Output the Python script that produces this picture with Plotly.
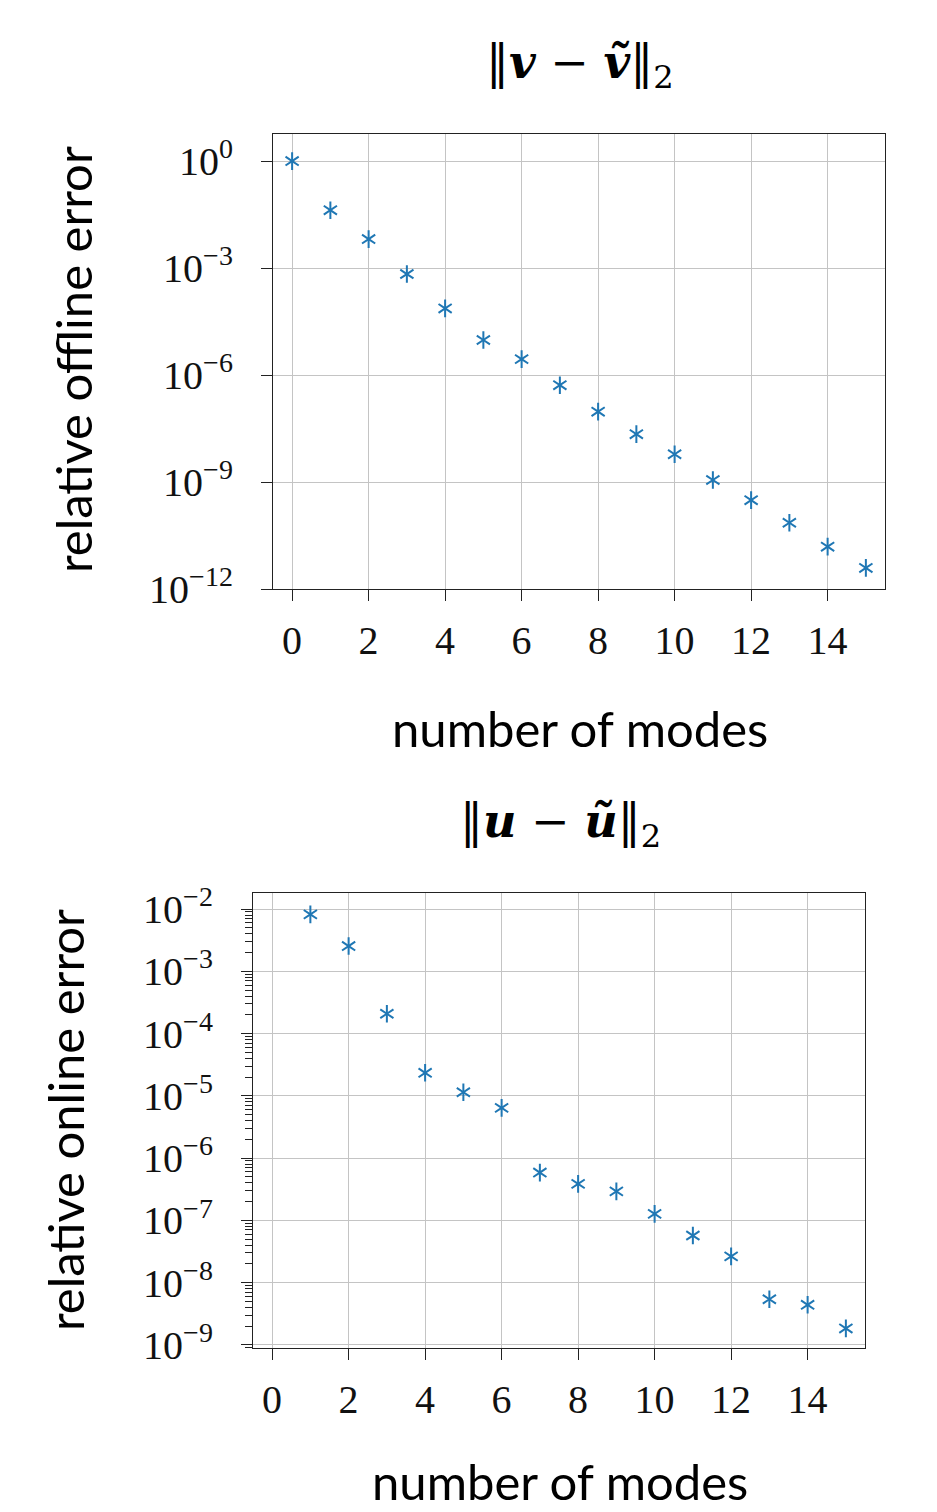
import numpy as np
import plotly.graph_objects as go

# ---- data ----
modes_offline = list(range(0, 16))
offline_error = [1.0, 4.2e-2, 6.5e-3, 6.8e-4, 7.4e-5, 9.6e-6, 2.8e-6, 5.2e-7,
                 9.4e-8, 2.2e-8, 6.0e-9, 1.14e-9, 3.1e-10, 7.2e-11, 1.54e-11, 3.9e-12]

modes_online = list(range(1, 16))
online_error = [8.2e-3, 2.54e-3, 2.08e-4, 2.34e-5, 1.14e-5, 6.4e-6, 5.85e-7, 3.85e-7,
                2.92e-7, 1.27e-7, 5.7e-8, 2.64e-8, 5.4e-9, 4.4e-9, 1.84e-9]

x_ticks = list(range(0, 15, 2))
top_y_exps = [0, -3, -6, -9, -12]
bot_y_exps = [-2, -3, -4, -5, -6, -7, -8, -9]

title_top = "‖<b><i>v</i></b> − <b><i>ṽ</i></b>‖<sub>2</sub>"
title_bot = "‖<b><i>u</i></b> − <b><i>ũ</i></b>‖<sub>2</sub>"
xlabel = "number of modes"
ylabel_top = "relative offline error"
ylabel_bot = "relative online error"

# ---- style ----
W, H = 937, 1512
BLUE = "#1f77b4"
SERIF = "Liberation Serif"
TSERIF = "DejaVu Serif"
SANS = "Lato"
GRID = "#c4c4c4"


def label(e):
    return "10<sup>" + ("−" if e < 0 else "") + str(abs(e)) + "</sup>"


fig = go.Figure()


def add_stars(x, y, xa, ya):
    for sym in ["y-up-open", "y-down-open"]:
        fig.add_trace(go.Scatter(
            x=x, y=y, mode="markers", xaxis=xa, yaxis=ya, showlegend=False,
            marker=dict(symbol=sym, size=11, color=BLUE,
                        line=dict(color=BLUE, width=2)),
        ))


add_stars(modes_offline, offline_error, "x", "y")
add_stars(modes_online, online_error, "x2", "y2")


def px_dom_x(a, b):
    return [a / W, b / W]


def px_dom_y(top, bottom):
    return [1 - bottom / H, 1 - top / H]


common_axis = dict(
    automargin=False,
    showline=True, linecolor="#222", linewidth=1.2, mirror=True,
    showgrid=True, gridcolor=GRID, gridwidth=1.3, zeroline=False,
    ticks="outside", ticklen=11, tickwidth=1.2, tickcolor="#222",
    tickfont=dict(family=SERIF, size=40, color="#111"),
)

minor_vals = [k * 10.0 ** e for e in range(-10, -1) for k in range(2, 10)]

fig.update_layout(
    template="none",
    width=W, height=H,
    margin=dict(l=0, r=0, t=0, b=0, autoexpand=False),
    paper_bgcolor="white", plot_bgcolor="white",
    xaxis=dict(common_axis, domain=px_dom_x(273, 885), range=[-0.5, 15.5],
               anchor="y", tickmode="array", tickvals=x_ticks,
               ticktext=[str(v) for v in x_ticks], ticklabelstandoff=5),
    yaxis=dict(common_axis, type="log", domain=px_dom_y(134, 589), range=[-12, 0.76],
               anchor="x", tickmode="array",
               tickvals=[10.0 ** e for e in top_y_exps],
               ticktext=[label(e) for e in top_y_exps], ticklabelstandoff=20),
    xaxis2=dict(common_axis, domain=px_dom_x(253, 865), range=[-0.5, 15.5],
                anchor="y2", tickmode="array", tickvals=x_ticks,
                ticktext=[str(v) for v in x_ticks], ticklabelstandoff=5),
    yaxis2=dict(common_axis, type="log", domain=px_dom_y(893, 1348), range=[-9.05, -1.743],
                anchor="x2", tickmode="array",
                tickvals=[10.0 ** e for e in bot_y_exps],
                ticktext=[label(e) for e in bot_y_exps], ticklabelstandoff=20,
                minor=dict(tickmode="array", tickvals=minor_vals, ticks="outside",
                           ticklen=7, tickwidth=1, tickcolor="#222", showgrid=False)),
)

annos = [
    dict(text=title_top, x=580 / W, y=1 - 66 / H, font=dict(family=TSERIF, size=46)),
    dict(text=title_bot, x=560 / W, y=1 - 825 / H, font=dict(family=TSERIF, size=46)),
    dict(text=xlabel, x=580 / W, y=1 - 728 / H, font=dict(family=SANS, size=49)),
    dict(text=xlabel, x=560 / W, y=0.0, yanchor="bottom", font=dict(family=SANS, size=49)),
    dict(text=ylabel_top, x=73 / W, y=1 - 360 / H, textangle=-90,
         font=dict(family=SANS, size=49)),
    dict(text=ylabel_bot, x=65 / W, y=1 - 1120 / H, textangle=-90,
         font=dict(family=SANS, size=49)),
]
for a in annos:
    a["font"]["color"] = "#000"
    a.setdefault("yanchor", "middle")
    fig.add_annotation(xref="paper", yref="paper", showarrow=False,
                       xanchor="center", **a)

fig.write_html("out.html")
